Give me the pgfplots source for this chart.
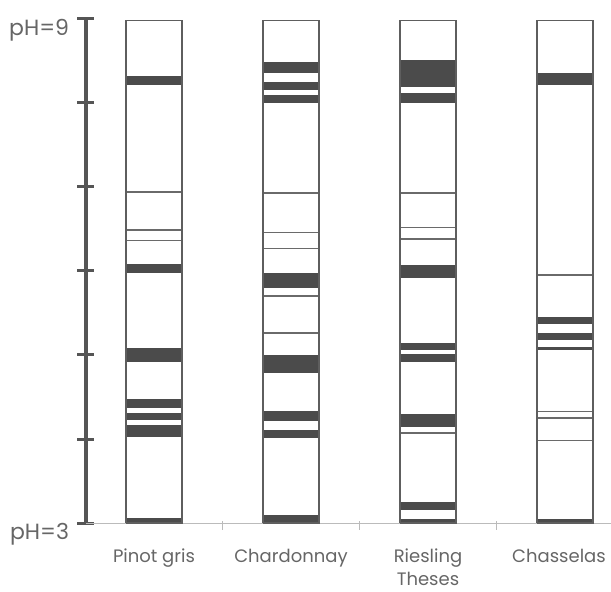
\documentclass[border=0pt]{standalone}
\usepackage{pgfplots}
\pgfplotsset{compat=1.18}
\usepackage{fontspec}
\setmainfont{Poppins}
\definecolor{bandc}{HTML}{4B4B4B}
\definecolor{lanec}{HTML}{5E5E5E}
\definecolor{thinc}{HTML}{6A6A6A}
\definecolor{axc}{HTML}{555555}
\definecolor{basec}{HTML}{BBBBBB}
\definecolor{textc}{HTML}{666666}
% band: left, right, low pH, high pH
\newcommand{\band}[4]{\addplot[fill=bandc, draw=none] coordinates {(#1,#3) (#2,#3) (#2,#4) (#1,#4)};}
% thin line: left, right, pH
\newcommand{\tline}[3]{\addplot[thinc, line width=0.7pt] coordinates {(#1,#3) (#2,#3)};}
% lane outline
\newcommand{\lane}[2]{\addplot[lanec, line width=0.65pt] coordinates {(#1,3) (#2,3) (#2,8.985) (#1,8.985) (#1,3)};}
\begin{document}
\begin{tikzpicture}
\begin{axis}[
  scale only axis,
  x=68.5pt, y=42pt,
  xmin=0.5036, xmax=4.3358,
  ymin=3, ymax=9,
  clip=false,
  axis x line*=bottom,
  axis y line*=left,
  x axis line style={basec, line width=0.5pt},
  y axis line style={axc, line width=1.8pt},
  ytick={3,4,5,6,7,8,9},
  yticklabels={pH=3,,,,,,pH=9},
  tick align=center,
  major tick length=8.5pt,
  y tick style={axc, line width=1.5pt},
  xtick={1,2,3,4},
  xticklabels={Pinot gris,Chardonnay,Riesling\\Theses,\hspace*{-6pt}Chasselas},
  xtick style={draw=none},
  every tick label/.append style={textc},
  yticklabel style={anchor=north east, inner sep=0pt, xshift=-4pt, font=\fontsize{11}{12}\selectfont},
  xticklabel style={anchor=north, inner sep=0pt, align=center, yshift=-8.5pt, font=\fontsize{9}{11.5}\selectfont},
]
% small ticks on baseline between lanes
\addplot[basec, line width=0.5pt] coordinates {(1.5,3.02) (1.5,2.92)};
\addplot[basec, line width=0.5pt] coordinates {(2.5,3.02) (2.5,2.92)};
\addplot[basec, line width=0.5pt] coordinates {(3.5,3.02) (3.5,2.92)};
% Pinot gris
\band{0.795}{1.205}{8.21}{8.32}
\band{0.795}{1.205}{5.98}{6.08}
\band{0.795}{1.205}{4.92}{5.08}
\band{0.795}{1.205}{4.37}{4.48}
\band{0.795}{1.205}{4.23}{4.31}
\band{0.795}{1.205}{4.02}{4.17}
\band{0.795}{1.205}{3.00}{3.06}
\tline{0.795}{1.205}{6.94}
\tline{0.795}{1.205}{6.49}
\tline{0.795}{1.205}{6.36}
\lane{0.795}{1.205}
% Chardonnay
\band{1.795}{2.205}{8.36}{8.49}
\band{1.795}{2.205}{8.15}{8.25}
\band{1.795}{2.205}{8.00}{8.10}
\band{1.795}{2.205}{5.80}{5.98}
\band{1.795}{2.205}{4.79}{5.00}
\band{1.795}{2.205}{4.21}{4.33}
\band{1.795}{2.205}{4.01}{4.11}
\band{1.795}{2.205}{3.00}{3.09}
\tline{1.795}{2.205}{6.93}
\tline{1.795}{2.205}{6.46}
\tline{1.795}{2.205}{6.27}
\tline{1.795}{2.205}{5.70}
\tline{1.795}{2.205}{5.26}
\lane{1.795}{2.205}
% Riesling Theses
\band{2.795}{3.205}{8.19}{8.51}
\band{2.795}{3.205}{8.00}{8.12}
\band{2.795}{3.205}{5.92}{6.07}
\band{2.795}{3.205}{5.06}{5.14}
\band{2.795}{3.205}{4.92}{5.01}
\band{2.795}{3.205}{4.14}{4.30}
\band{2.795}{3.205}{3.15}{3.25}
\band{2.795}{3.205}{3.00}{3.05}
\tline{2.795}{3.205}{6.93}
\tline{2.795}{3.205}{6.52}
\tline{2.795}{3.205}{6.38}
\tline{2.795}{3.205}{4.07}
\lane{2.795}{3.205}
% Chasselas
\band{3.795}{4.205}{8.21}{8.36}
\band{3.795}{4.205}{5.37}{5.45}
\band{3.795}{4.205}{5.18}{5.26}
\band{3.795}{4.205}{5.06}{5.10}
\band{3.795}{4.205}{3.00}{3.05}
\tline{3.795}{4.205}{5.95}
\tline{3.795}{4.205}{4.33}
\tline{3.795}{4.205}{4.25}
\tline{3.795}{4.205}{3.98}
\lane{3.795}{4.205}
\coordinate (bbTL) at (axis cs:-0.124,9.226);
\coordinate (bbBR) at (axis cs:4.3358,2.179);
\end{axis}
\pgfresetboundingbox
\useasboundingbox (bbTL) rectangle (bbBR);
\end{tikzpicture}
\end{document}
